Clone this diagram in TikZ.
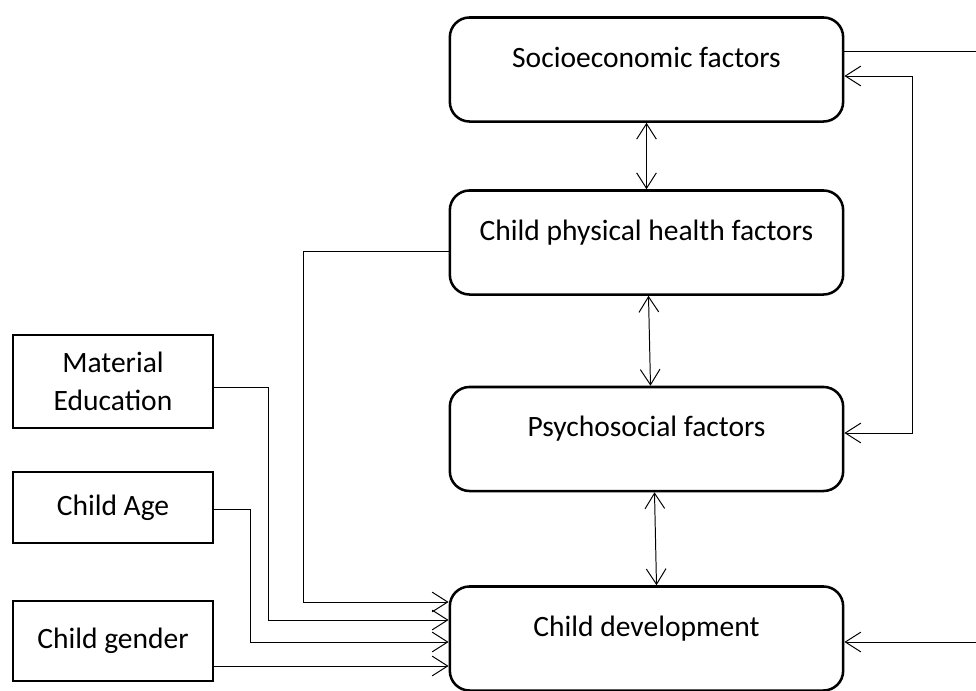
\documentclass[tikz,border=0pt]{standalone}
\usepackage{fontspec}
\setmainfont{Carlito}
\usepackage{tikz}
\usetikzlibrary{arrows.meta}
\usetikzlibrary{calc,positioning}

\tikzset{
  >={Straight Barb[length=11pt,width=14pt]},
  factor/.style={draw, line width=1.8pt, rounded corners=14pt,
    minimum width=9.83cm, minimum height=2.6cm,
    text height=15pt, text depth=18pt},
  inbox/.style={draw, line width=1.8pt, minimum width=5cm, align=center},
  link/.style={line width=0.7pt}
}

\begin{document}
\begin{tikzpicture}[x=0.025cm, y=-0.025cm, font=\fontsize{21}{27}\selectfont]

    \useasboundingbox (0,0) rectangle (976,691);
    \clip (0,0) rectangle (976,691);

    % Factors
    \node[factor] (socio) at (646.5,69.5) {Socioeconomic factors};
    \node[factor] (phys) at (646.5,242.5) {Child physical health factors};
    \node[factor] (psych) at (646.5,439) {Psychosocial factors};
    \node[factor] (cd) at (646.5,638.5) {Child development};

    % Covariates
    \node[inbox, minimum height=2.33cm] (mat) at (113,381.5) {Material\\Education};
    \node[inbox, minimum height=1.78cm] (age) at (113,507.5) {Child Age};
    \node[inbox, minimum height=2cm] (gender) at (113,641) {Child gender};

    % Chain
    \draw[link, <->] (socio) -- (phys);
    \draw[link, <->] ($(phys.south)+(2,0)$) -- ($(psych.north)+(4,0)$);
    \draw[link, <->] ($(psych.south)+(8,0)$) -- ($(cd.north)+(10,0)$);

    % Into child development
    \draw[link, ->] (phys.west |- 0,251) -- (303,251) |- (cd.west |- 0,602);
    \draw[link, ->] (mat.east |- 0,387) -- (268,387) |- (cd.west |- 0,620);
    \draw[link, ->] (age.east |- 0,509) -- (250,509) |- (cd.west |- 0,642);
    \draw[link, ->] (gender.east |- 0,666) -- (cd.west |- 0,666);

    % Right side
    \draw[link, ->] (socio.east |- 0,51) -- (1000,51) |- (cd.east |- 0,642);
    \draw[link, <->] (socio.east |- 0,76) -| (912,433) -- (psych.east |- 0,433);
\end{tikzpicture}
\end{document}
